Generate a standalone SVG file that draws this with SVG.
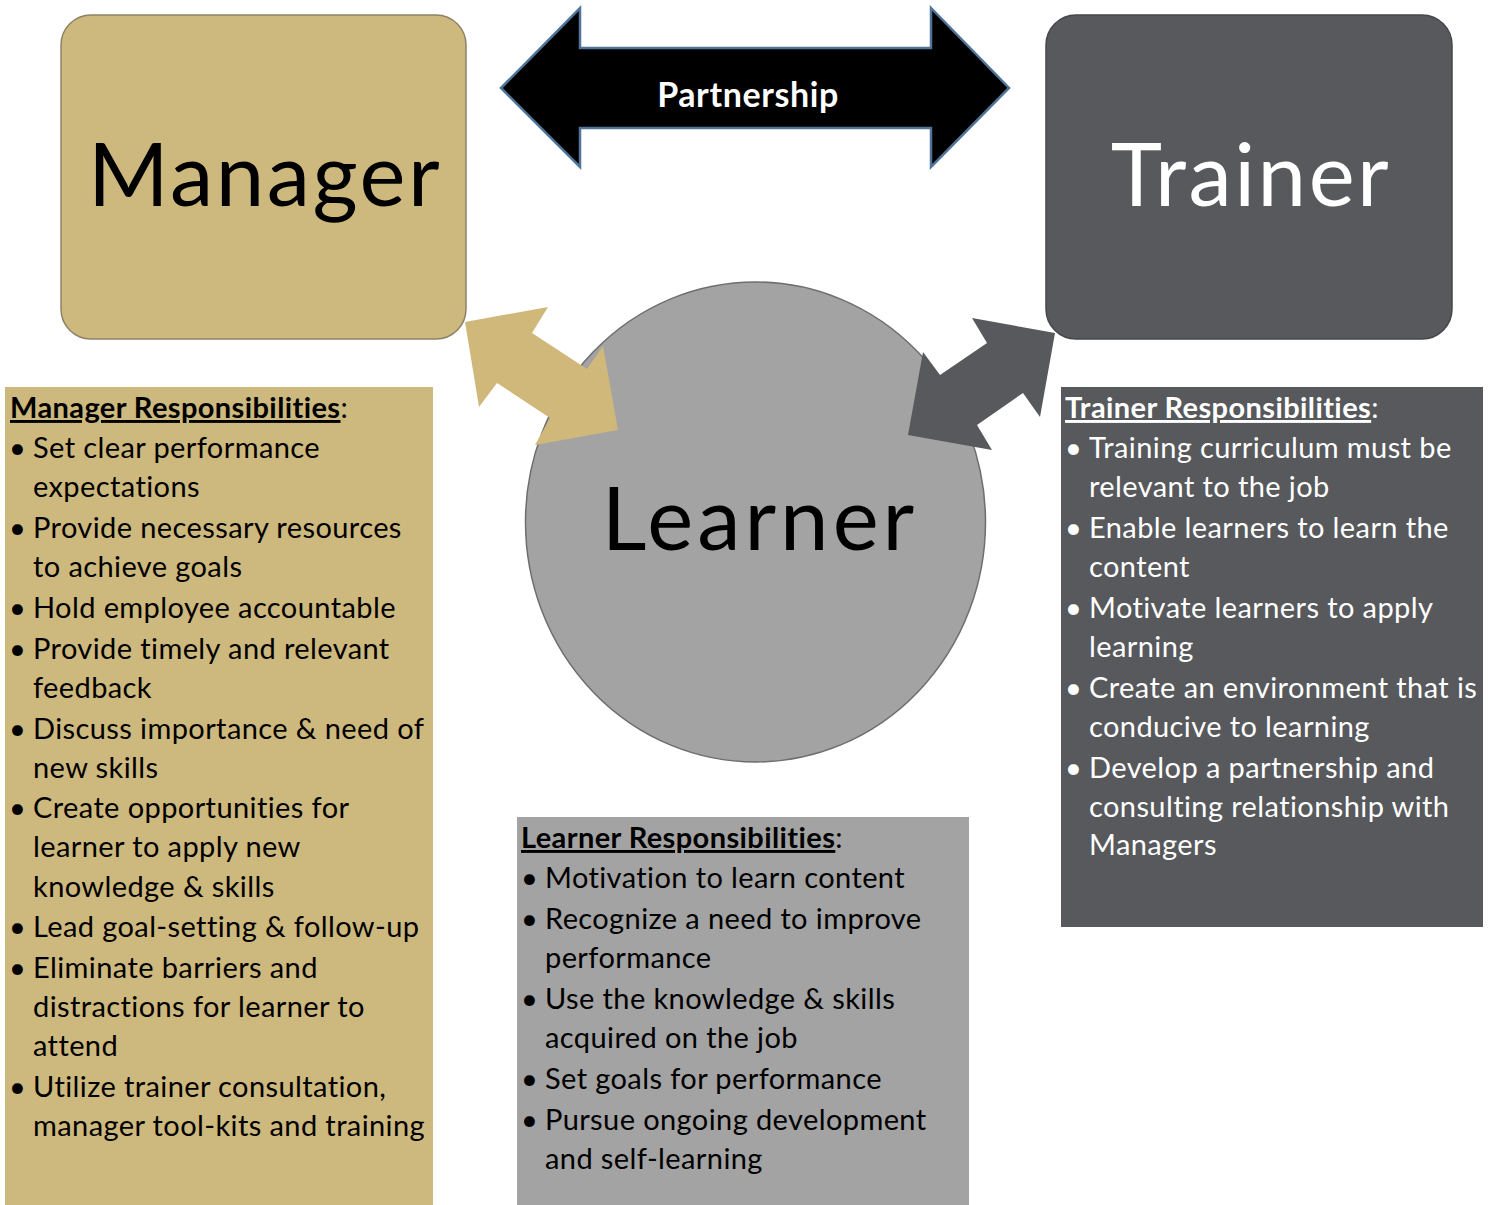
<svg xmlns="http://www.w3.org/2000/svg" width="1495" height="1205" viewBox="0 0 1495 1205">
<defs>
<style>
.big{font-family:Lato,"Liberation Sans",sans-serif;font-size:87px;letter-spacing:2.5px}
.t{font-family:Lato,"Liberation Sans",sans-serif;font-size:29px;letter-spacing:0.4px}
.h{font-weight:bold}
.u{text-decoration:underline}
.dk{fill:#000}
.wt{fill:#fff}
.tan{fill:#cdb87d}
.dark{fill:#57595c}
.gray{fill:#a3a3a3}
</style>
</defs>
<rect width="1495" height="1205" fill="#fff"/>

<g id="connectors">
<polygon id="partnership-arrow" points="501,88 580,8 580,48 931,48 931,8 1009,88 931,167 931,128 580,128 580,167" fill="#000" stroke="#4f7399" stroke-width="2.5" stroke-linejoin="miter"/>
<text x="748" y="107" text-anchor="middle" class="h wt" style="font-family:Lato,'Liberation Sans',sans-serif;font-size:34px;letter-spacing:0.6px">Partnership</text>
</g>

<g id="manager">
<rect x="61" y="15" width="405" height="324" rx="30" class="tan" stroke="#8d8265" stroke-width="1.5"/>
<text x="265" y="206" text-anchor="middle" class="big dk">Manager</text>
</g>

<g id="trainer">
<rect x="1046" y="15" width="406" height="324" rx="30" class="dark" stroke="#45474a" stroke-width="1.5"/>
<text x="1251" y="206" text-anchor="middle" class="big wt">Trainer</text>
</g>

<g id="learner">
<ellipse cx="755.5" cy="522" rx="230" ry="240" class="gray" stroke="#6e6e6e" stroke-width="1.5"/>
<text x="760" y="550" text-anchor="middle" class="big dk" style="letter-spacing:4px">Learner</text>
</g>

<g id="link-arrows">
<polygon points="465,322 548,307 532,333 587,369 603,346 618,430 535,445 550,418 497,383 479,407" fill="#cfb87a"/>
<polygon points="1055,333 1040,417 1023,393 977,425 992,450 908,435 923,352 940,375 987,343 972,318" fill="#57595c"/>
</g>

<g id="manager-responsibilities">
<rect x="5" y="387" width="428" height="818" class="tan"/>
<text class="t dk">
<tspan x="10" y="418"><tspan class="h u">Manager Responsibilities</tspan>:</tspan>
<tspan x="9" y="458">•</tspan><tspan x="33" y="458">Set clear performance</tspan>
<tspan x="33" y="497">expectations</tspan>
<tspan x="9" y="538">•</tspan><tspan x="33" y="538">Provide necessary resources</tspan>
<tspan x="33" y="577">to achieve goals</tspan>
<tspan x="9" y="618">•</tspan><tspan x="33" y="618">Hold employee accountable</tspan>
<tspan x="9" y="659">•</tspan><tspan x="33" y="659">Provide timely and relevant</tspan>
<tspan x="33" y="698">feedback</tspan>
<tspan x="9" y="739">•</tspan><tspan x="33" y="739">Discuss importance &amp; need of</tspan>
<tspan x="33" y="778">new skills</tspan>
<tspan x="9" y="818">•</tspan><tspan x="33" y="818">Create opportunities for</tspan>
<tspan x="33" y="857">learner to apply new</tspan>
<tspan x="33" y="897">knowledge &amp; skills</tspan>
<tspan x="9" y="937">•</tspan><tspan x="33" y="937">Lead goal-setting &amp; follow-up</tspan>
<tspan x="9" y="978">•</tspan><tspan x="33" y="978">Eliminate barriers and</tspan>
<tspan x="33" y="1017">distractions for learner to</tspan>
<tspan x="33" y="1056">attend</tspan>
<tspan x="9" y="1097">•</tspan><tspan x="33" y="1097">Utilize trainer consultation,</tspan>
<tspan x="33" y="1136">manager tool-kits and training</tspan>
</text>
</g>

<g id="trainer-responsibilities">
<rect x="1061" y="387" width="422" height="540" class="dark"/>
<text class="t wt">
<tspan x="1065" y="418"><tspan class="h u">Trainer Responsibilities</tspan>:</tspan>
<tspan x="1065" y="458">•</tspan><tspan x="1089" y="458">Training curriculum must be</tspan>
<tspan x="1089" y="497">relevant to the job</tspan>
<tspan x="1065" y="538">•</tspan><tspan x="1089" y="538">Enable learners to learn the</tspan>
<tspan x="1089" y="577">content</tspan>
<tspan x="1065" y="618">•</tspan><tspan x="1089" y="618">Motivate learners to apply</tspan>
<tspan x="1089" y="657">learning</tspan>
<tspan x="1065" y="698">•</tspan><tspan x="1089" y="698">Create an environment that is</tspan>
<tspan x="1089" y="737">conducive to learning</tspan>
<tspan x="1065" y="778">•</tspan><tspan x="1089" y="778">Develop a partnership and</tspan>
<tspan x="1089" y="817">consulting relationship with</tspan>
<tspan x="1089" y="855">Managers</tspan>
</text>
</g>

<g id="learner-responsibilities">
<rect x="517" y="817" width="452" height="388" class="gray"/>
<text class="t dk">
<tspan x="521" y="848"><tspan class="h u">Learner Responsibilities</tspan>:</tspan>
<tspan x="521" y="888">•</tspan><tspan x="545" y="888">Motivation to learn content</tspan>
<tspan x="521" y="929">•</tspan><tspan x="545" y="929">Recognize a need to improve</tspan>
<tspan x="545" y="968">performance</tspan>
<tspan x="521" y="1009">•</tspan><tspan x="545" y="1009">Use the knowledge &amp; skills</tspan>
<tspan x="545" y="1048">acquired on the job</tspan>
<tspan x="521" y="1089">•</tspan><tspan x="545" y="1089">Set goals for performance</tspan>
<tspan x="521" y="1130">•</tspan><tspan x="545" y="1130">Pursue ongoing development</tspan>
<tspan x="545" y="1169">and self-learning</tspan>
</text>
</g>
</svg>
